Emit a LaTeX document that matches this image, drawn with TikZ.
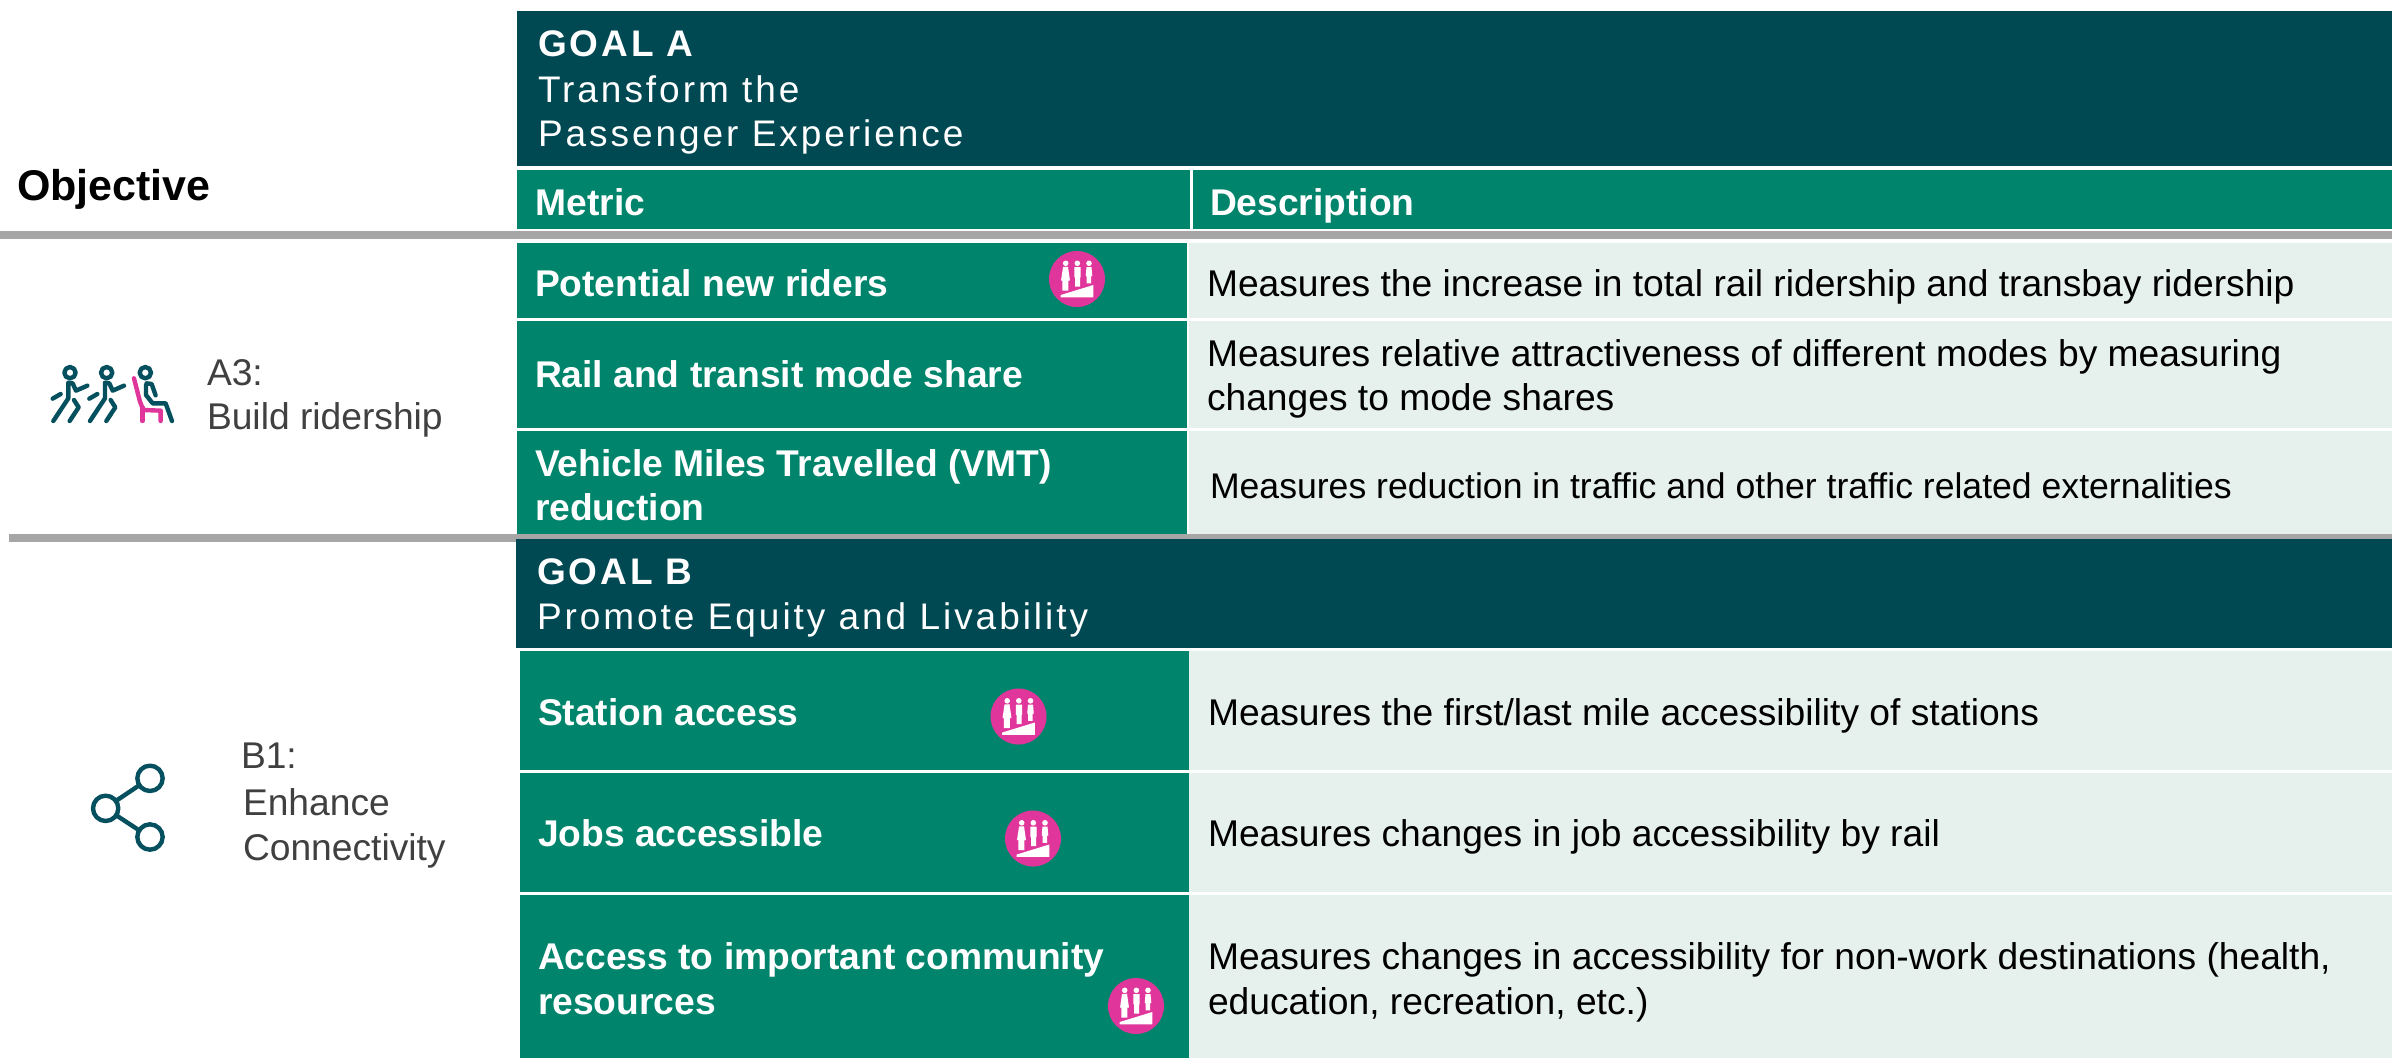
\documentclass[tikz,border=0pt]{standalone}
\usepackage{fontspec}
\setmainfont{Liberation Sans}
\newfontfamily\spaced[LetterSpace=8]{Liberation Sans}
\definecolor{darkteal}{HTML}{004852}
\definecolor{iconteal}{HTML}{05505E}
\definecolor{midgreen}{HTML}{00846B}
\definecolor{palegreen}{HTML}{E6F0EC}
\definecolor{rulegrey}{HTML}{A6A6A6}
\definecolor{hotpink}{HTML}{E0359A}
\definecolor{labelgrey}{HTML}{404040}
\newcommand{\risecue}[2]{%
  \begin{scope}[shift={(#1,#2)}]
    \fill[hotpink] (0,0) circle[radius=28];
    \fill[white] (-11.3,-15.7) circle[radius=2.8] (0.3,-15.7) circle[radius=2.8] (12,-15.7) circle[radius=2.8];
    \fill[white] (-16,1.7) -- (-14,-12) -- (-9,-12.3) -- (-7,1.7) -- (-8.7,1.7) -- (-8.7,11.7) -- (-14.7,11.7) -- (-14.7,1.7) -- cycle;
    \fill[white] (-2.7,-1.7) -- (-2.7,-12) -- (3.7,-12) -- (3.7,-1.7) -- (3,-1.7) -- (3,7.7) -- (-2,7.7) -- (-2,-1.7) -- cycle;
    \fill[white] (8.7,-3) -- (9.5,-12) -- (14.5,-12) -- (15.3,-3) -- (14,-3) -- (14,4.3) -- (9.7,4.3) -- (9.7,-3) -- cycle;
    \fill[white] (-16.3,18.3) -- (16.3,18.3) -- (16.3,6) -- (-16.3,16) -- cycle;
  \end{scope}}
\newcommand{\walker}[1]{%
  \begin{scope}[xshift=#1]
    \draw[iconline] (210,158) circle[radius=17];
    \draw[iconline] (262,197) -- (228,212) -- (218,190) -- (205,188) -- (205,235) -- (160,303);
    \draw[iconline] (222,240) -- (236,262) -- (209,303);
    \draw[iconline] (158,236) -- (182,222);
  \end{scope}}
\tikzset{
  iconline/.style={draw=iconteal,line width=4.4pt,line cap=round,line join=round},
  chairline/.style={draw=hotpink,line width=4.4pt,line cap=round,line join=round},
  base/.style={anchor=base west,inner sep=0pt,outer sep=0pt,font=\fontsize{37.2}{37}\selectfont},
  headtxt/.style={base,text=white,font=\fontsize{37.2}{37}\selectfont\bfseries},
  goalb/.style={base,text=white,font=\fontsize{37}{37}\selectfont\spaced\bfseries},
  goalt/.style={base,text=white,font=\fontsize{37}{37}\selectfont\spaced},
  desc/.style={base,text=black},
  objlab/.style={base,text=labelgrey},
}
\begin{document}
\begin{tikzpicture}[x=1pt,y=-1pt]
\useasboundingbox (0,0) rectangle (2392,1058);
\fill[white] (0,0) rectangle (2392,1058);
% rules
\fill[rulegrey] (0,231) rectangle (2392,239);
\fill[rulegrey] (9,534) rectangle (2392,542);
% goal bands
\fill[darkteal] (517,11) rectangle (2392,166);
\fill[darkteal] (516,539) rectangle (2392,648);
% header
\fill[midgreen] (517,170) rectangle (1190,229);
\fill[midgreen] (1193,170) rectangle (2392,229);
% pale cells
\fill[palegreen] (1189,243) rectangle (2392,318);
\fill[palegreen] (1189,321) rectangle (2392,428);
\fill[palegreen] (1189,431) rectangle (2392,534);
\fill[palegreen] (1189,651) rectangle (2392,770);
\fill[palegreen] (1189,773) rectangle (2392,892);
\fill[palegreen] (1189,895) rectangle (2392,1058);
% metric cells
\fill[midgreen] (517,243) rectangle (1187,318);
\fill[midgreen] (517,321) rectangle (1187,428);
\fill[midgreen] (517,431) rectangle (1187,534);
\fill[midgreen] (520,651) rectangle (1189,770);
\fill[midgreen] (520,773) rectangle (1189,892);
\fill[midgreen] (520,895) rectangle (1189,1058);
% texts
\node[base,font=\fontsize{43}{43}\selectfont\bfseries] (objective) at (17,200) {Objective};
\node[goalb] (goala) at (538,56) {GOAL A};
\node[goalt] (goalaone) at (538,102) {Transform the};
\node[goalt] (goalatwo) at (538,146) {Passenger Experience};
\node[headtxt] (metric) at (535.5,215) {Metric};
\node[headtxt] (description) at (1210,215) {Description};
\node[headtxt] (mone) at (535,296) {Potential new riders};
\node[desc] (done) at (1207,296) {Measures the increase in total rail ridership and transbay ridership};
\node[headtxt] (mtwo) at (535,387.5) {Rail and transit mode share};
\node[desc] (dtwoa) at (1207,366) {Measures relative attractiveness of different modes by measuring};
\node[desc] (dtwob) at (1207,410) {changes to mode shares};
\node[headtxt] (mthreea) at (535,476) {Vehicle Miles Travelled (VMT)};
\node[headtxt] (mthreeb) at (535,520) {reduction};
\node[desc,font=\fontsize{35.6}{36}\selectfont] (dthree) at (1210,498) {Measures reduction in traffic and other traffic related externalities};
\node[goalb] (goalb) at (537,584) {GOAL B};
\node[goalt] (goalbt) at (537,629) {Promote Equity and Livability};
\node[headtxt] (mfour) at (538,725) {Station access};
\node[desc] (dfour) at (1208,725) {Measures the first/last mile accessibility of stations};
\node[headtxt] (mfive) at (538,846) {Jobs accessible};
\node[desc] (dfive) at (1208,846) {Measures changes in job accessibility by rail};
\node[headtxt] (msixa) at (538,969) {Access to important community};
\node[headtxt] (msixb) at (538,1014) {resources};
\node[desc] (dsixa) at (1208,969) {Measures changes in accessibility for non-work destinations (health,};
\node[desc] (dsixb) at (1208,1014) {education, recreation, etc.)};
\node[objlab] (athree) at (207,385) {A3:};
\node[objlab] (athreeb) at (207,429) {Build ridership};
\node[objlab] (bone) at (241,768) {B1:};
\node[objlab] (boneb) at (243,815) {Enhance};
\node[objlab] (bonec) at (243,860) {Connectivity};
% metric badges
\risecue{1077}{279}
\risecue{1018.5}{716.5}
\risecue{1033}{838.5}
\risecue{1136}{1006}
% riders icon
\begin{scope}[shift={(0,320)},x=0.3333pt,y=-0.3333pt]
  \walker{0pt}
  \walker{36.67pt}
  \draw[chairline] (402,175) -- (420,245) -- (430,270) -- (482,272) -- (482,303);
  \draw[chairline] (427,262) -- (427,303);
  \draw[iconline] (436,158) circle[radius=17];
  \draw[iconline] (440,190) -- (455,192) -- (467,226);
  \draw[iconline] (438,195) -- (438,225) -- (458,250) -- (497,250) -- (516,303);
\end{scope}
% share icon
\begin{scope}[shift={(60,740)},x=0.3333pt,y=-0.3333pt]
  \draw[iconline] (270,115) circle[radius=38];
  \draw[iconline] (137,205) circle[radius=38];
  \draw[iconline] (270,291) circle[radius=38];
  \draw[iconline] (172,180) -- (236,137);
  \draw[iconline] (172,228) -- (236,270);
\end{scope}
\end{tikzpicture}
\end{document}
